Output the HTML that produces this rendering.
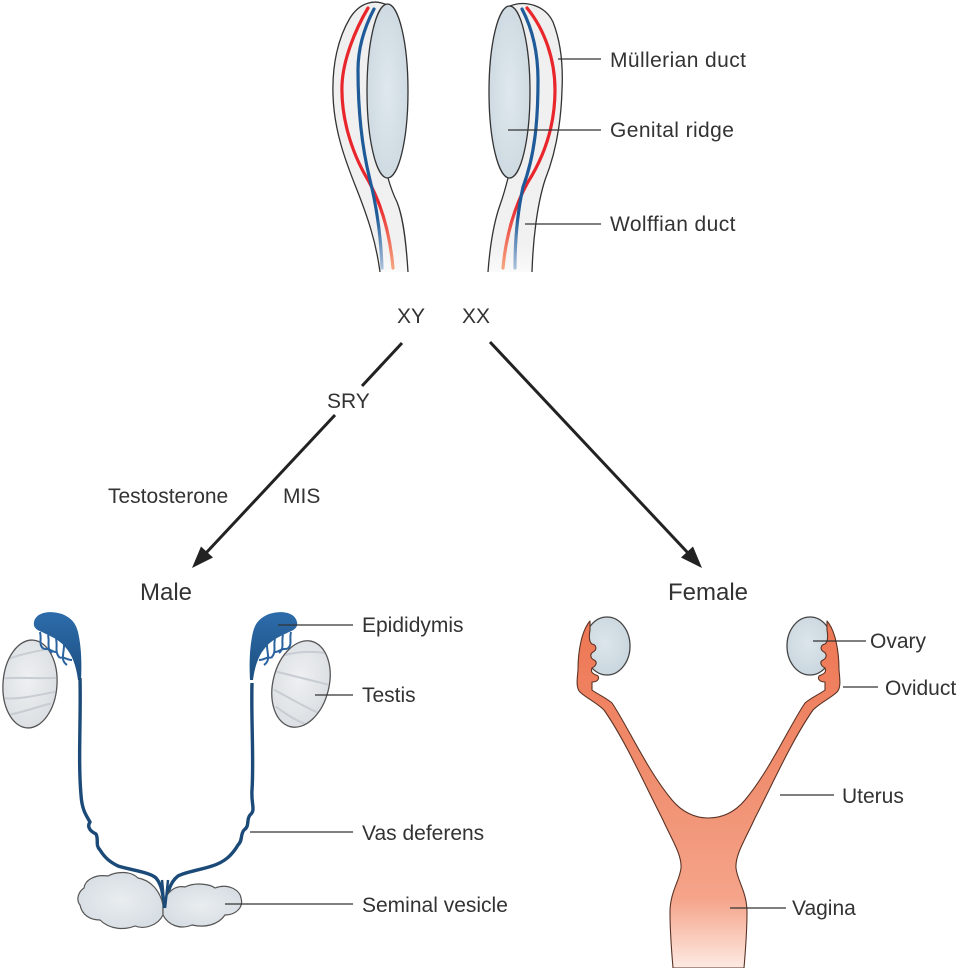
<!DOCTYPE html>
<html>
<head>
<meta charset="utf-8">
<style>
html,body{margin:0;padding:0;background:#fff;}
svg{display:block;}
text{font-family:"Liberation Sans",Arial,sans-serif;fill:#333;font-size:21px;}
</style>
</head>
<body>
<svg width="959" height="968" viewBox="0 0 959 968" xmlns="http://www.w3.org/2000/svg">
<defs>
  <linearGradient id="redL" x1="0" y1="0" x2="0" y2="1" gradientUnits="objectBoundingBox">
    <stop offset="0" stop-color="#e8262c"/>
    <stop offset="0.75" stop-color="#e8262c"/>
    <stop offset="1" stop-color="#f6a57f"/>
  </linearGradient>
  <linearGradient id="blueL" x1="0" y1="0" x2="0" y2="1" gradientUnits="objectBoundingBox">
    <stop offset="0" stop-color="#1f5b98"/>
    <stop offset="0.8" stop-color="#1f5b98"/>
    <stop offset="1" stop-color="#a9c1da"/>
  </linearGradient>
  <linearGradient id="tubeG" x1="0" y1="0" x2="0" y2="1">
    <stop offset="0" stop-color="#efefef"/>
    <stop offset="0.9" stop-color="#f1f1f1"/>
    <stop offset="1" stop-color="#fafafa"/>
  </linearGradient>
  <radialGradient id="ridgeG" cx="0.5" cy="0.5" r="0.6">
    <stop offset="0" stop-color="#dfe8ee"/>
    <stop offset="1" stop-color="#cbd7df"/>
  </radialGradient>
  <radialGradient id="ovG" cx="0.45" cy="0.45" r="0.6">
    <stop offset="0" stop-color="#dbe5eb"/>
    <stop offset="1" stop-color="#c9d5dd"/>
  </radialGradient>
  <radialGradient id="testG" cx="0.45" cy="0.45" r="0.6">
    <stop offset="0" stop-color="#eef0f2"/>
    <stop offset="1" stop-color="#dadee2"/>
  </radialGradient>
  <radialGradient id="svG" cx="0.5" cy="0.5" r="0.6">
    <stop offset="0" stop-color="#e9edf0"/>
    <stop offset="1" stop-color="#d5dce2"/>
  </radialGradient>
  <linearGradient id="epG" x1="0" y1="0" x2="0" y2="1">
    <stop offset="0" stop-color="#2d6cab"/>
    <stop offset="1" stop-color="#1d4f80"/>
  </linearGradient>
  <linearGradient id="utG" x1="0" y1="620" x2="0" y2="968" gradientUnits="userSpaceOnUse">
    <stop offset="0" stop-color="#ee7653"/>
    <stop offset="0.45" stop-color="#f08e6f"/>
    <stop offset="0.8" stop-color="#f5a48a"/>
    <stop offset="1" stop-color="#fdeae3"/>
  </linearGradient>
  <clipPath id="clipTL"><ellipse cx="30" cy="684" rx="26" ry="43"/></clipPath>
  <clipPath id="clipTR"><ellipse cx="301" cy="684" rx="27" ry="43"/></clipPath>
</defs>

<!-- ============ TOP: left (XY) indifferent gonad ============ -->
<path d="M387,5 C375,-1 360,2 350,18 C338,38 332,65 333,95 C334,130 345,160 357,190 C368,218 376,242 380,272 L408,272 C406,240 403,217 397,202 C392,192 390,185 388,178 A20.5 87 0 0 0 387,5 Z" fill="url(#tubeG)"/>
<path d="M387,5 C375,-1 360,2 350,18 C338,38 332,65 333,95 C334,130 345,160 357,190 C368,218 376,242 380,272" fill="none" stroke="#333" stroke-width="1.3"/>
<path d="M388,178 C390,185 392,192 397,202 C403,217 406,240 408,272" fill="none" stroke="#333" stroke-width="1.3"/>
<path d="M368,8 C355,30 343,60 342,85 C341,115 350,150 368,180 C382,205 390,235 393,268" fill="none" stroke="url(#redL)" stroke-width="3.2" stroke-linecap="round"/>
<path d="M374,9 C363,30 358,50 358,70 C358,100 360,140 370,180 C377,208 381,240 382,268" fill="none" stroke="url(#blueL)" stroke-width="3.2" stroke-linecap="round"/>
<ellipse cx="387.5" cy="91" rx="20.5" ry="87" fill="url(#ridgeG)" stroke="#333" stroke-width="1.3"/>

<!-- ============ TOP: right (XX) indifferent gonad ============ -->
<path d="M510,6 C525,0 545,5 553,22 C562,45 563,70 562,90 C561,125 555,155 545,180 C537,205 533,240 532,272 L488,272 C490,245 494,222 500,205 C504,194 506,186 508,178 A20.5 86 0 0 1 510,6 Z" fill="url(#tubeG)"/>
<path d="M510,6 C525,0 545,5 553,22 C562,45 563,70 562,90 C561,125 555,155 545,180 C537,205 533,240 532,272" fill="none" stroke="#333" stroke-width="1.3"/>
<path d="M508,178 C506,186 504,194 500,205 C494,222 490,245 488,272" fill="none" stroke="#333" stroke-width="1.3"/>
<path d="M527,8 C545,30 555,60 555,90 C555,125 545,155 528,182 C515,205 506,235 503,268" fill="none" stroke="url(#redL)" stroke-width="3.2" stroke-linecap="round"/>
<path d="M522,9 C533,30 538,55 538,80 C538,120 535,155 523,187 C518,210 515,240 515,268" fill="none" stroke="url(#blueL)" stroke-width="3.2" stroke-linecap="round"/>
<ellipse cx="509.5" cy="92" rx="20.5" ry="86" fill="url(#ridgeG)" stroke="#333" stroke-width="1.3"/>

<!-- top labels -->
<line x1="558" y1="59" x2="601" y2="59" stroke="#333" stroke-width="1.3"/>
<line x1="508" y1="130" x2="601" y2="130" stroke="#333" stroke-width="1.3"/>
<line x1="525" y1="224" x2="601" y2="224" stroke="#333" stroke-width="1.3"/>
<text x="610" y="67" letter-spacing="0.4">Müllerian duct</text>
<text x="610" y="137" letter-spacing="0.4">Genital ridge</text>
<text x="610" y="231" letter-spacing="0.4">Wolffian duct</text>

<!-- XY XX -->
<text x="397" y="323">XY</text>
<text x="462" y="323">XX</text>

<!-- arrows -->
<line x1="402" y1="343" x2="362" y2="386" stroke="#222" stroke-width="3"/>
<line x1="335" y1="415" x2="206" y2="553" stroke="#222" stroke-width="3"/>
<polygon points="192,568 213,557.5 201,546.5" fill="#222"/>
<line x1="490" y1="342" x2="688" y2="553" stroke="#222" stroke-width="3"/>
<polygon points="702,568 693,546.5 681,557.5" fill="#222"/>

<text x="327" y="408">SRY</text>
<text x="108" y="503">Testosterone</text>
<text x="283" y="503">MIS</text>
<text x="140" y="600" style="font-size:24px">Male</text>
<text x="668" y="600" style="font-size:24px">Female</text>

<!-- ============ MALE ============ -->
<!-- testes -->
<g transform="rotate(4 30 684)">
  <ellipse cx="30" cy="684" rx="27" ry="44" fill="url(#testG)" stroke="#555" stroke-width="1.3"/>
  <g clip-path="url(#clipTL)">
    <path d="M8,660 C20,654 38,650 52,646" fill="none" stroke="#c7cdd3" stroke-width="2"/>
    <path d="M4,680 C20,678 40,678 56,676" fill="none" stroke="#c7cdd3" stroke-width="2"/>
    <path d="M6,700 C22,700 40,694 56,690" fill="none" stroke="#c7cdd3" stroke-width="2"/>
    <path d="M12,716 C26,712 40,706 52,702" fill="none" stroke="#c7cdd3" stroke-width="2"/>
  </g>
</g>
<g transform="rotate(14 301 684)">
  <ellipse cx="301" cy="684" rx="28" ry="44" fill="url(#testG)" stroke="#555" stroke-width="1.3"/>
  <g clip-path="url(#clipTR)">
    <path d="M278,660 C292,652 310,648 322,648" fill="none" stroke="#c7cdd3" stroke-width="2"/>
    <path d="M274,678 C290,678 310,678 328,678" fill="none" stroke="#c7cdd3" stroke-width="2"/>
    <path d="M276,696 C292,700 312,706 326,708" fill="none" stroke="#c7cdd3" stroke-width="2"/>
    <path d="M282,712 C296,718 310,722 320,722" fill="none" stroke="#c7cdd3" stroke-width="2"/>
  </g>
</g>

<!-- left epididymis -->
<g>
  <path d="M40,632 C42,640 38,645 44,649 M48,635 C50,642 46,648 52,653 M56,639 C58,646 54,652 60,658 M64,645 C64,654 60,660 67,665 M44,649 C50,648 52,652 56,652 M60,658 C64,656 66,660 72,660" fill="none" stroke="#2a63a0" stroke-width="2"/>
  <path d="M34,622 C36,612 50,610 62,614 C72,618 76,624 78,632 C81,645 82,660 81,680 L78,680 C76,665 72,655 66,648 C60,640 50,636 42,632 C36,630 33,627 34,622 Z" fill="url(#epG)"/>
</g>
<!-- right epididymis (mirror) -->
<g transform="translate(331,0) scale(-1,1)">
  <path d="M40,632 C42,640 38,645 44,649 M48,635 C50,642 46,648 52,653 M56,639 C58,646 54,652 60,658 M64,645 C64,654 60,660 67,665 M44,649 C50,648 52,652 56,652 M60,658 C64,656 66,660 72,660" fill="none" stroke="#2a63a0" stroke-width="2"/>
  <path d="M34,622 C36,612 50,610 62,614 C72,618 76,624 78,632 C81,645 82,660 81,680 L78,680 C76,665 72,655 66,648 C60,640 50,636 42,632 C36,630 33,627 34,622 Z" fill="url(#epG)"/>
</g>

<!-- vas deferens -->
<path d="M80,678 C81,720 78,760 81,795 C82,810 86,815 90,822 C86,828 92,832 96,834 C99,840 95,845 100,850 C105,858 110,862 118,866 C130,870 150,872 156,878 C162,885 163,895 164,905" fill="none" stroke="#1b4a78" stroke-width="3.4" stroke-linejoin="round"/>
<path d="M252,683 C251,720 254,760 252,790 C251,805 256,810 250,815 C246,820 250,826 244,830 C240,835 243,840 238,845 C232,855 225,862 212,866 C200,870 185,872 178,876 C170,882 167,893 166,905" fill="none" stroke="#1b4a78" stroke-width="3.4" stroke-linejoin="round"/>

<!-- seminal vesicles -->
<path d="M163,905 C160,890 150,880 138,878 C130,870 115,872 108,876 C95,874 85,880 84,888 C78,892 76,900 80,905 C82,915 90,920 100,920 C110,930 125,930 135,926 C145,930 158,925 163,915 Z" fill="url(#svG)" stroke="#555" stroke-width="1.2"/>
<path d="M163,905 C166,892 175,885 185,887 C195,882 210,884 215,888 C228,883 240,890 241,898 C244,908 235,915 225,915 C218,925 205,928 192,925 C180,930 168,925 163,915 Z" fill="url(#svG)" stroke="#555" stroke-width="1.2"/>
<path d="M162,880 C163,890 164,900 164,908" fill="none" stroke="#1b4a78" stroke-width="2.5"/>
<path d="M168,880 C167,890 166,900 165,908" fill="none" stroke="#1b4a78" stroke-width="2.5"/>

<!-- male labels -->
<line x1="278" y1="625" x2="353" y2="625" stroke="#333" stroke-width="1.3"/>
<line x1="315" y1="695" x2="353" y2="695" stroke="#333" stroke-width="1.3"/>
<line x1="250" y1="832" x2="353" y2="832" stroke="#333" stroke-width="1.3"/>
<line x1="225" y1="904" x2="353" y2="904" stroke="#333" stroke-width="1.3"/>
<text x="362" y="632">Epididymis</text>
<text x="362" y="702">Testis</text>
<text x="362" y="840">Vas deferens</text>
<text x="362" y="912">Seminal vesicle</text>

<!-- ============ FEMALE ============ -->
<ellipse cx="607" cy="646" rx="23" ry="29" fill="url(#ovG)" stroke="#444" stroke-width="1.3"/>
<ellipse cx="810" cy="646" rx="23" ry="29" fill="url(#ovG)" stroke="#444" stroke-width="1.3"/>
<path d="M590,621 C582,630 578,650 578,670 C577,680 576,688 580,692 C586,698 596,702 604,710 C625,740 645,785 662,818 C672,840 682,855 681,868 C680,880 670,892 670,912 C670,935 672,955 673,968 L744,968 C745,955 747,935 747,912 C747,892 737,880 736,868 C735,855 745,840 755,818 C772,785 792,740 813,710 C821,702 831,698 837,692 C841,688 840,680 839,670 C839,650 835,630 827,621 L827,630 C828,636 828,642 825,644 C820,645 820,650 824,652 C827,654 827,658 823,660 C819,662 821,666 825,668 C827,673 823,674 819,676 C817,680 821,682 825,682 L825,690 C820,694 812,697 805,703 C790,725 770,770 745,800 C735,812 722,818 708,818 C695,818 682,812 672,800 C647,770 627,725 612,703 C605,697 597,694 592,690 L592,682 C596,682 600,680 598,676 C594,674 590,673 592,668 C596,666 598,662 594,660 C590,658 590,654 593,652 C597,650 597,645 592,644 C589,642 589,636 590,630 Z" fill="url(#utG)" stroke="#5a3325" stroke-width="1.1" stroke-linejoin="round"/>

<!-- female labels -->
<line x1="813" y1="641" x2="866" y2="641" stroke="#333" stroke-width="1.3"/>
<line x1="843" y1="687" x2="878" y2="687" stroke="#333" stroke-width="1.3"/>
<line x1="780" y1="795" x2="834" y2="795" stroke="#333" stroke-width="1.3"/>
<line x1="730" y1="908" x2="786" y2="908" stroke="#333" stroke-width="1.3"/>
<text x="870" y="648">Ovary</text>
<text x="885" y="695">Oviduct</text>
<text x="842" y="803">Uterus</text>
<text x="792" y="915">Vagina</text>
</svg>
</body>
</html>
